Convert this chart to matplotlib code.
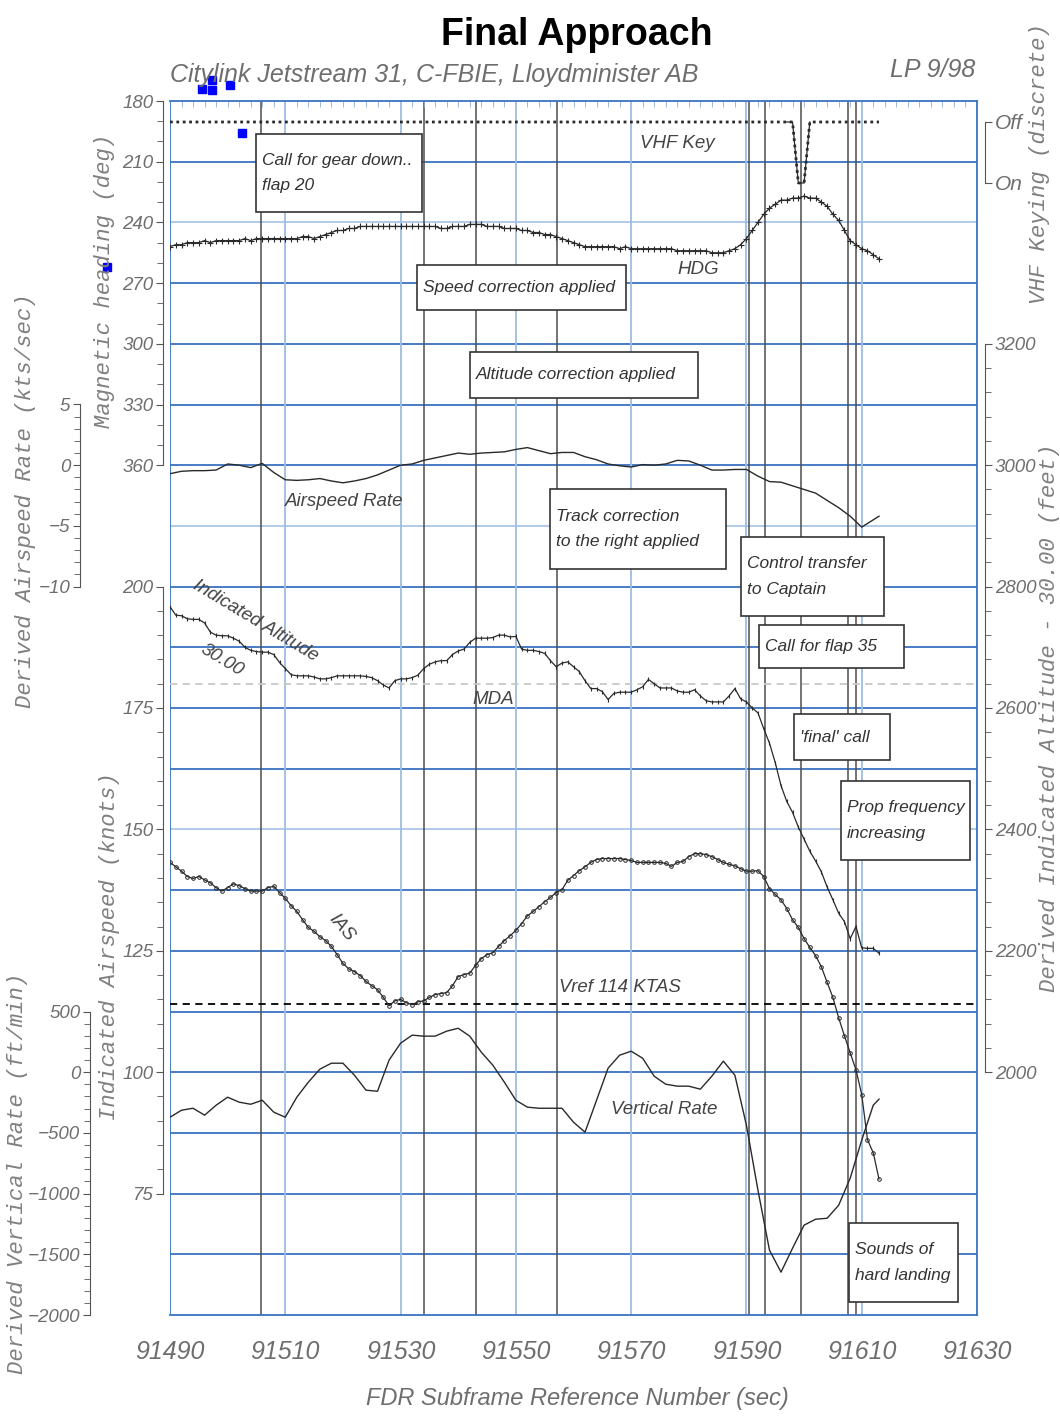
import matplotlib
matplotlib.use('Agg')
import matplotlib.pyplot as plt
import numpy as np
from matplotlib.patches import Rectangle
from matplotlib.ticker import FixedLocator

NARROW = ['Liberation Sans', 'DejaVu Sans']
MONO = ['Liberation Mono', 'DejaVu Sans Mono']
plt.rcParams['font.family'] = NARROW
plt.rcParams['font.style'] = 'italic'

GREY = '#6e6e6e'
INK = '#2a2a2a'
GRID = '#3a72c2'
GRID_LT = '#aac6e6'
VGRID = '#9dbde4'

# ---- data (FDR seconds) ----
sec = np.arange(91490, 91614)                              # 1 s samples
sec2 = np.append(np.arange(91490, 91613, 2), 91613)        # 2 s samples

heading = [252, 251, 251, 250, 250, 250, 249, 250, 249, 249,
           249, 249, 249, 248, 249, 248, 248, 248, 248, 248,
           248, 248, 248, 247, 247, 248, 247, 246, 245, 244,
           244, 243, 243, 242, 242, 242, 242, 242, 242, 242,
           242, 242, 242, 242, 242, 242, 242, 243, 243, 242,
           242, 242, 241, 241, 241, 242, 242, 242, 243, 243,
           243, 244, 244, 245, 245, 246, 246, 247, 248, 249,
           250, 251, 252, 252, 252, 252, 252, 252, 253, 252,
           253, 253, 253, 253, 253, 253, 253, 253, 254, 254,
           254, 254, 254, 254, 255, 255, 255, 254, 253, 251,
           248, 244, 240, 236, 233, 231, 229, 229, 228, 228,
           227, 228, 228, 230, 232, 236, 239, 244, 249, 251,
           253, 254, 256, 258]

vhf_key = [1] * 109 + [0, 0] + [1] * 13     # 1 = Off, 0 = On

airspeed_rate = [-0.7, -0.5, -0.45, -0.45, -0.4, 0.1, 0.0, -0.2, 0.15, -0.6,
                 -1.2, -1.25, -1.2, -1.1, -1.3, -1.45, -1.3, -1.1, -0.8, -0.4,
                 0.0, 0.1, 0.4, 0.6, 0.8, 1.0, 0.9, 1.0, 1.05, 1.1,
                 1.3, 1.45, 1.2, 0.95, 1.05, 1.05, 0.7, 0.45, 0.1, -0.05,
                 -0.15, 0.05, 0.0, 0.1, 0.4, 0.35, 0.0, -0.4, -0.4, -0.35,
                 -0.35, -0.9, -1.35, -1.4, -1.7, -2.0, -2.3, -2.9, -3.5, -4.2,
                 -5.1, -4.5, -4.2]

altitude = [2767, 2753, 2752, 2747, 2746, 2746, 2740, 2725, 2720, 2719,
            2719, 2715, 2710, 2700, 2695, 2693, 2692, 2692, 2688, 2675,
            2665, 2655, 2653, 2653, 2653, 2651, 2648, 2648, 2650, 2653,
            2653, 2653, 2653, 2653, 2652, 2650, 2645, 2638, 2633, 2645,
            2648, 2648, 2650, 2654, 2665, 2672, 2676, 2678, 2678, 2688,
            2694, 2697, 2708, 2715, 2715, 2715, 2716, 2720, 2720, 2717,
            2718, 2697, 2695, 2695, 2693, 2690, 2678, 2668, 2674, 2676,
            2668, 2660, 2645, 2632, 2632, 2627, 2614, 2624, 2626, 2626,
            2626, 2630, 2635, 2647, 2640, 2633, 2633, 2633, 2628, 2626,
            2626, 2630, 2620, 2612, 2610, 2610, 2610, 2620, 2632, 2615,
            2610, 2600, 2592, 2566, 2542, 2510, 2472, 2446, 2428, 2404,
            2384, 2364, 2348, 2330, 2305, 2284, 2262, 2248, 2220, 2240,
            2205, 2204, 2204, 2196]
mda = 2640

ias = [143.2, 142.3, 141.4, 140.3, 139.9, 140.3, 139.6, 139.0, 138.0, 137.3,
       138.0, 138.8, 138.4, 137.8, 137.3, 137.3, 137.3, 138.0, 138.3, 137.0,
       135.8, 134.3, 133.1, 131.4, 129.8, 129.0, 127.9, 127.1, 125.9, 124.2,
       122.4, 121.3, 120.7, 119.9, 118.7, 117.8, 117.0, 115.4, 113.7, 114.7,
       115.0, 114.3, 113.9, 114.5, 114.7, 115.4, 116.0, 116.2, 116.4, 117.8,
       119.7, 120.1, 120.4, 122.0, 123.4, 124.2, 124.6, 125.9, 127.1, 128.1,
       129.2, 130.6, 132.2, 133.1, 134.1, 135.1, 136.0, 137.0, 137.6, 139.5,
       140.5, 141.5, 142.3, 143.2, 143.8, 144.0, 144.0, 144.0, 144.0, 143.8,
       143.6, 143.2, 143.2, 143.2, 143.2, 143.2, 143.0, 142.4, 143.2, 143.4,
       144.4, 145.0, 145.0, 144.8, 144.4, 143.8, 143.2, 142.8, 142.5, 141.9,
       141.4, 141.4, 141.5, 140.3, 137.8, 136.6, 135.5, 133.7, 131.4, 129.8,
       127.5, 125.7, 124.0, 121.7, 118.5, 115.4, 111.2, 107.5, 104.0, 100.5,
       95.4, 86.1, 83.4, 78.0]
vref = 114

vertical_rate = [-371, -313, -297, -354, -272, -206, -247, -264, -231, -329,
                 -371, -206, -82, 25, 74, 74, -25, -148, -157, 99,
                 239, 305, 297, 297, 338, 362, 297, 165, 58, -82,
                 -231, -288, -297, -297, -297, -412, -494, -231, 33, 140,
                 173, 115, -33, -99, -115, -115, -140, -33, 91, -25,
                 -437, -972, -1466, -1647, -1450, -1260, -1211, -1203, -1096, -873,
                 -560, -272, -222]

events = [91505.8, 91534.0, 91543.0, 91557.1, 91590.5, 91593.3, 91599.4, 91607.7, 91609.0]
event_notes = ['Call for gear down..\nflap 20', 'Speed correction applied',
               'Altitude correction applied', 'Track correction\nto the right applied',
               'Control transfer\nto Captain', 'Call for flap 35', "'final' call",
               'Prop frequency\nincreasing', 'Sounds of\nhard landing']
# note boxes (left, top, right, bottom) in figure pixels
note_box = [(256, 134, 422, 212), (417, 265, 626, 310), (470, 352, 698, 398),
            (550, 489, 726, 569), (741, 537, 884, 616), (759, 625, 904, 668),
            (794, 714, 890, 760), (841, 781, 970, 860), (849, 1223, 958, 1302)]

blue_x = [91495.6, 91497.3, 91497.3, 91500.4, 91502.5, 91479.0]
blue_y = [174.1, 169.6, 174.6, 172.1, 195.8, 262.1]

fig = plt.figure(figsize=(10.6, 14.16), dpi=100)
pos = [170 / 1060, 1 - 1315 / 1416, 807 / 1060, 1214 / 1416]


def px(x, y):
    return x / 1060, 1 - y / 1416


def pt(pixels):
    return pixels * 0.72


# base axes: heading scale, grid, events
ax = fig.add_axes(pos)
ax.set_xlim(91490, 91630)
ax.set_ylim(780, 180)
for h in range(210, 780, 30):
    ax.axhline(h, color=GRID_LT if h in (240, 390, 540) else GRID, lw=1.3, zorder=0.5)
for x in range(91510, 91630, 20):
    ax.axvline(x, color=VGRID, lw=1.3, zorder=0.5)
for x in events:
    ax.axvline(x, color='#4d4d4d', lw=1.1, zorder=1)
for s in ('top', 'bottom', 'right'):
    ax.spines[s].set_color(GRID)
    ax.spines[s].set_linewidth(1.3)
ax.axvline(91490, color=GRID, lw=1.3, zorder=0.6)
ax.spines['left'].set_position(('outward', pt(7)))
ax.spines['left'].set_bounds(180, 360)
ax.spines['left'].set_color('#555555')
ax.yaxis.set_major_locator(FixedLocator(range(180, 361, 30)))
ax.yaxis.set_minor_locator(FixedLocator(range(180, 361, 10)))
ax.tick_params(axis='y', which='major', length=5, color='#555555', pad=2,
               labelsize=13.5, labelcolor=GREY)
ax.tick_params(axis='y', which='minor', length=4, color='#555555')
ax.set_xticks(range(91490, 91631, 20))
ax.xaxis.set_minor_locator(FixedLocator(np.arange(91492, 91630, 2)))
ax.tick_params(axis='x', which='major', length=0, pad=18, labelsize=18, labelcolor=GREY)
ax.tick_params(axis='x', which='minor', top=True, bottom=False, direction='in',
               length=4, color='#8fb0d8')
ax.plot(blue_x, blue_y, 's', color='#0000ff', ms=5.5, clip_on=False, zorder=5)


def overlay(lo, hi):
    a = fig.add_axes(pos)
    a.set_xlim(91490, 91630)
    a.set_ylim(lo, hi)
    a.patch.set_visible(False)
    for s in a.spines.values():
        s.set_visible(False)
    a.tick_params(axis='x', which='both', bottom=False, top=False, labelbottom=False)
    a.tick_params(axis='y', which='both', left=False, right=False,
                  labelleft=False, labelright=False)
    return a


def scale(a, side, offset, bounds, major, minor, size=13.5):
    a.spines[side].set_visible(True)
    a.spines[side].set_position(('outward', pt(offset)))
    a.spines[side].set_bounds(*bounds)
    a.spines[side].set_color('#555555')
    a.yaxis.set_major_locator(FixedLocator(major))
    a.yaxis.set_minor_locator(FixedLocator(minor))
    a.yaxis.set_ticks_position(side)
    a.tick_params(axis='y', which='major', length=5, color='#555555', pad=2,
                  labelsize=size, labelcolor=GREY)
    a.tick_params(axis='y', which='minor', length=4, color='#555555')
    if side == 'left':
        a.tick_params(axis='y', which='both', left=True, labelleft=True)
    else:
        a.tick_params(axis='y', which='both', right=True, labelright=True)


ax_ias = overlay(50, 300)
scale(ax_ias, 'left', 7, (75, 200), range(75, 201, 25), range(75, 201, 5))
ax_asr = overlay(-70, 30)
scale(ax_asr, 'left', 90, (-10, 5), [-10, -5, 0, 5], range(-10, 6, 1))
ax_vr = overlay(-2000, 8000)
scale(ax_vr, 'left', 80, (-2000, 500), range(-2000, 501, 500), range(-2000, 501, 100))
ax_alt = overlay(1600, 3600)
scale(ax_alt, 'right', 8, (2000, 3200), range(2000, 3201, 200), range(2000, 3201, 40))
ax_vhf = overlay(-18.557, 1.344)
scale(ax_vhf, 'right', 8, (0, 1), [0, 1], [], size=15)
ax_vhf.set_yticklabels(['On', 'Off'])

# series
ax_vhf.plot(sec, vhf_key, ls=(0, (1, 1.3)), lw=2, color=INK)
ax_vhf.plot(sec[107:112], vhf_key[107:112], lw=0.9, color=INK)
ax.plot(sec, heading, color=INK, lw=0.9, marker='+', ms=4, mew=0.8, zorder=3)
ax_asr.plot(sec2, airspeed_rate, color=INK, lw=1.0)
ax_alt.axhline(mda, color='#c8c8c8', ls=(0, (4, 3)), lw=1.3)
ax_alt.plot(sec, altitude, color=INK, lw=0.9, marker='|', ms=3.5, mew=0.8)
ax_ias.axhline(vref, color='black', ls=(0, (4, 3)), lw=1.3)
ax_ias.plot(sec, ias, color=INK, lw=0.9, marker='o', ms=2.6, mfc='none', mew=0.7)
ax_vr.plot(sec2, vertical_rate, color=INK, lw=1.0)

# event note boxes
for note, (l, t, r, b) in zip(event_notes, note_box):
    x0, y0 = px(l, b)
    x1, y1 = px(r, t)
    fig.add_artist(Rectangle((x0, y0), x1 - x0, y1 - y0, transform=fig.transFigure,
                             fc='white', ec='#333333', lw=1.2, zorder=2))
    fig.text(*px(l + 6, (t + b) / 2), note, ha='left', va='center', fontsize=12.5,
             color='#333333', linespacing=1.9, zorder=3)

# series labels
lab = dict(fontsize=13.5, color='#444444', ha='center', va='center')
fig.text(*px(677, 143), 'VHF Key', **lab)
fig.text(*px(698, 270), 'HDG', **lab)
fig.text(*px(344, 502), 'Airspeed Rate', **lab)
fig.text(*px(255, 621), 'Indicated Altitude', rotation=-31, **lab)
fig.text(*px(222, 660), '30.00', rotation=-31, **lab)
fig.text(*px(493, 699), 'MDA', **lab)
fig.text(*px(341, 928), 'IAS', rotation=-50, **lab)
fig.text(*px(620, 988), 'Vref 114 KTAS', **lab)
fig.text(*px(664, 1110), 'Vertical Rate', **lab)

# axis titles
ylab = dict(family=MONO, fontsize=16, color='#808080', rotation=90, ha='center', va='center')
fig.text(*px(105, 281), 'Magnetic heading (deg)', **ylab)
fig.text(*px(26, 501), 'Derived Airspeed Rate (kts/sec)', **ylab)
fig.text(*px(110, 946), 'Indicated Airspeed (knots)', **ylab)
fig.text(*px(18, 1173), 'Derived Vertical Rate (ft/min)', **ylab)
fig.text(*px(1040, 164), 'VHF Keying (discrete)', **ylab)
fig.text(*px(1049, 718), 'Derived Indicated Altitude - 30.00 (feet)', **ylab)

fig.text(*px(577, 1398), 'FDR Subframe Reference Number (sec)', ha='center', va='center',
         fontsize=17, color=GREY)
fig.text(*px(577, 35), 'Final Approach', ha='center', va='center', fontsize=27,
         weight='bold', style='normal', color='black')
fig.text(*px(170, 75), 'Citylink Jetstream 31, C-FBIE, Lloydminister AB', ha='left',
         va='center', fontsize=18, color=GREY)
fig.text(*px(975, 70), 'LP 9/98', ha='right', va='center', fontsize=18, color=GREY)

fig.savefig('out.png', dpi=100)
